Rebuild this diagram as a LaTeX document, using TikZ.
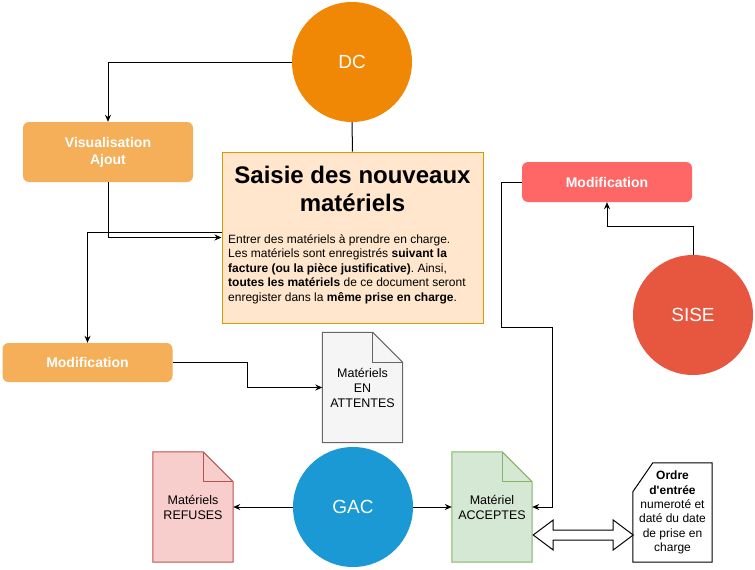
\documentclass[tikz,border=0pt]{standalone}
\usepackage{fontspec}
\setmainfont{Liberation Sans}
\usetikzlibrary{arrows.meta,backgrounds,calc}
\frenchspacing

\definecolor{dcorange}{HTML}{F08705}
\definecolor{gacblue}{HTML}{1A99D4}
\definecolor{sisered}{HTML}{E7563F}
\definecolor{modred}{HTML}{FF6666}
\definecolor{boxorange}{HTML}{F5AF58}
\definecolor{saisiefill}{HTML}{FFE6CC}
\definecolor{saisiedraw}{HTML}{D79B00}
\definecolor{attfill}{HTML}{F5F5F5}
\definecolor{attdraw}{HTML}{666666}
\definecolor{reffill}{HTML}{F8CECC}
\definecolor{refdraw}{HTML}{B85450}
\definecolor{accfill}{HTML}{D5E8D4}
\definecolor{accdraw}{HTML}{82B366}

\tikzset{
  bubble/.style={circle, minimum size=120pt, inner sep=0pt, text=white, font=\fontsize{19}{22}\selectfont},
  taskbox/.style={rounded corners=6pt, minimum width=170pt, inner sep=0pt, text=white, align=center, font=\fontsize{14}{17}\selectfont\bfseries},
  docbox/.style={minimum width=80pt, minimum height=110pt, inner sep=0pt, align=center, font=\fontsize{12.5}{15}\selectfont},
  link/.style={draw=black, line width=1pt, -{Stealth[length=7pt,width=6pt]}},
  plainlink/.style={draw=black, line width=1pt},
}

% document outline with folded corner: node, fill, stroke
\newcommand{\docshape}[3]{%
  \filldraw[fill=#2, draw=#3, line width=1pt] (#1.north west) -- ([xshift=-30pt]#1.north east) -- ([yshift=-30pt]#1.north east) -- (#1.south east) -- (#1.south west) -- cycle;
  \draw[#3, line width=1pt] ([xshift=-30pt]#1.north east) -- ([xshift=-30pt,yshift=-30pt]#1.north east) -- ([yshift=-30pt]#1.north east);
}

\begin{document}
\begin{tikzpicture}[x=1pt, y=-1pt]
    \useasboundingbox (0,0) rectangle (755,570);

    \node[bubble, fill=dcorange] (dc) at (352,62) {DC};
    \node[taskbox, fill=boxorange, minimum height=60pt] (visu) at (108,152) {Visualisation\\Ajout};
    \node[draw=saisiedraw, fill=saisiefill, line width=1pt, minimum width=261pt, minimum height=171pt, inner sep=0pt] (saisie) at (352.5,237.5) {};
    \node[align=center, inner sep=0pt, font=\fontsize{24}{28}\selectfont\bfseries] (saisie-t) at (352.5,189) {Saisie des nouveaux\\matériels};
    \node[anchor=west, align=left, inner sep=0pt, font=\fontsize{12}{14.5}\selectfont] (saisie-b) at (228,269) {Entrer des matériels à prendre en charge.\\
      Les matériels sont enregistrés \textbf{suivant la}\\
      \textbf{facture (ou la pièce justificative)}. Ainsi,\\
      \textbf{toutes les matériels} de ce document seront\\
      enregister dans la \textbf{même prise en charge}.};
    \node[taskbox, fill=boxorange, minimum height=39pt] (modl) at (87.5,362.5) {Modification};
    \node[docbox] (att) at (362.5,387.5) {Matériels\\EN\\ATTENTES};
    \node[bubble, fill=gacblue] (gac) at (353,507) {GAC};
    \node[docbox] (ref) at (193,507) {Matériels\\REFUSES};
    \node[docbox] (acc) at (492,507) {Matériel\\ACCEPTES};
    \node[taskbox, fill=modred, minimum height=40pt] (modr) at (607,182) {Modification};
    \node[bubble, fill=sisered] (sise) at (693,315) {SISE};
    \node[docbox, minimum width=79pt, minimum height=99pt, font=\fontsize{12}{14.3}\selectfont] (ord) at (672.5,512.5) {\textbf{Ordre}\\\textbf{d\textquotesingle entrée}\\numeroté et\\daté du date\\de prise en\\charge};

    \begin{scope}[on background layer]
      \docshape{att}{attfill}{attdraw}
      \docshape{ref}{reffill}{refdraw}
      \docshape{acc}{accfill}{accdraw}
      \filldraw[fill=white, draw=black, line width=1pt] ([yshift=-29pt]ord.north west) -- ([xshift=20pt]ord.north west) -- (ord.north east) -- (ord.south east) -- (ord.south west) -- cycle;
    \end{scope}

    \draw[link] (dc.west) -| (visu.north);
    \draw[plainlink] (dc.south) -- (saisie.north);
    \draw[link] (visu.south) |- (saisie.west);
    \draw[link] ([yshift=5pt]saisie.west) -| (modl.north);
    \draw[link] (modl.east) -- ++(75,0) |- (att.west);
    \draw[link] (gac.west) -- (ref.east);
    \draw[link] (gac.east) -- (acc.west);
    \draw[link] (sise.north) -- ++(0,-28) -| (modr.south);
    \draw[link] (modr.west) -- ++(-20,0) -- ++(0,145) -| ([xshift=20pt]acc.east) -- (acc.east);
    \draw[plainlink, fill=white] ($(acc.east)+(1,28)$) -- ++(20,-15) -- ++(0,10) -- ++(60,0) -- ++(0,-10) -- ++(20,15) -- ++(-20,15) -- ++(0,-10) -- ++(-60,0) -- ++(0,10) -- cycle;
\end{tikzpicture}
\end{document}
